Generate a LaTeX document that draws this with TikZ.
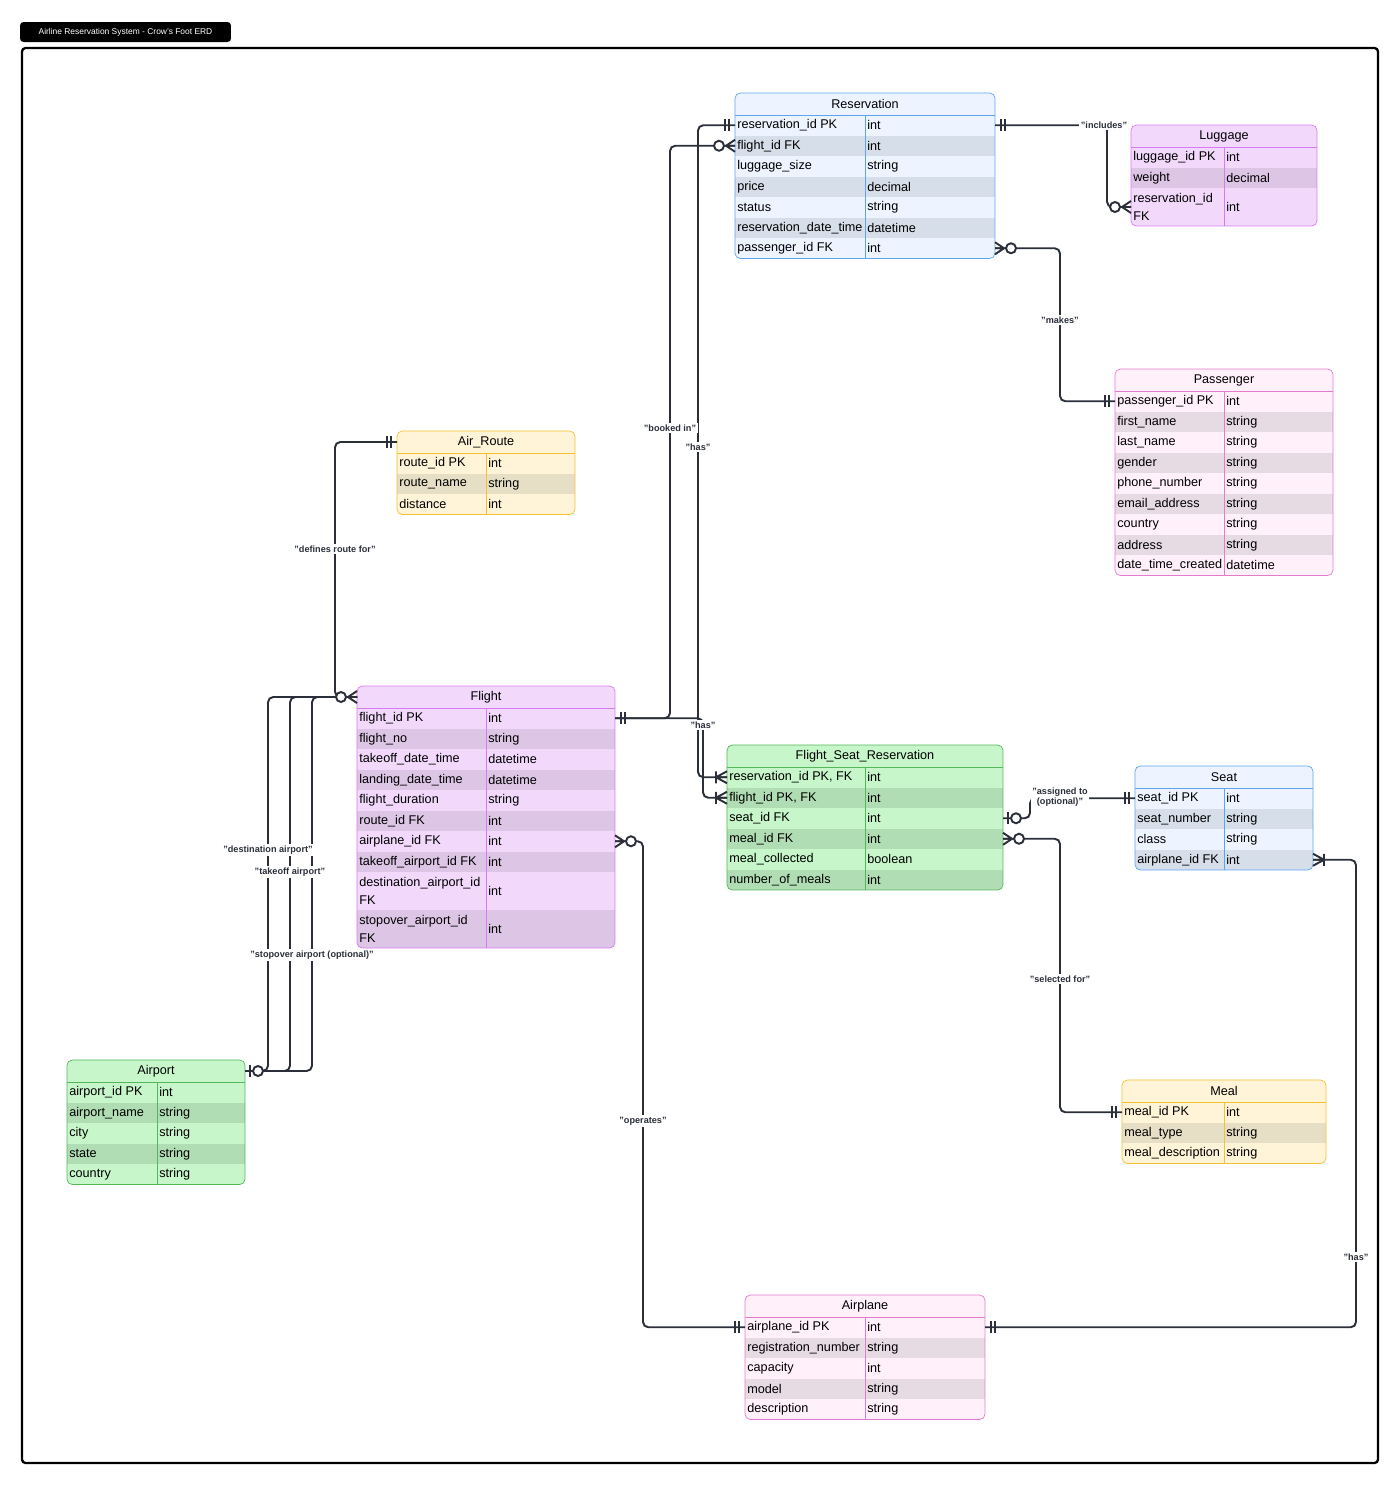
\documentclass[tikz,border=0pt]{standalone}
\usepackage{fontspec}
\setmainfont{Liberation Sans}
\usepackage{tikz}
\usetikzlibrary{calc,positioning}
\definecolor{ErdInk}{HTML}{2B2F3A}
\definecolor{bluefill}{HTML}{EDF4FF}\definecolor{bluealt}{HTML}{D6DEE9}\definecolor{blueline}{HTML}{5AA5F5}
\definecolor{purplefill}{HTML}{F2D9FC}\definecolor{purplealt}{HTML}{DDC5E5}\definecolor{purpleline}{HTML}{D77BF0}
\definecolor{pinkfill}{HTML}{FFF0FA}\definecolor{pinkalt}{HTML}{E6DAE3}\definecolor{pinkline}{HTML}{E57ACF}
\definecolor{yellowfill}{HTML}{FFF3D8}\definecolor{yellowalt}{HTML}{E6DFC6}\definecolor{yellowline}{HTML}{F2C230}
\definecolor{greenfill}{HTML}{C6F6C9}\definecolor{greenalt}{HTML}{B0DDB3}\definecolor{greenline}{HTML}{52B85A}
\newcommand{\erdfont}{\fontsize{7.2}{10}\selectfont}
\tikzset{
  erdrel/.style={draw=ErdInk, line width=1.1pt, rounded corners=3pt},
  erdlabel/.style={fill=white, inner sep=1pt, font=\fontsize{5.2}{6}\selectfont\bfseries, text=ErdInk, align=center},
  erdone/.pic={\draw[ErdInk, line width=1.1pt] (6,-6) -- (6,6) (10,-6) -- (10,6);},
  erdzmany/.pic={\draw[ErdInk, line width=1.1pt] (0,-6) -- (9,0) -- (0,6) (0,0) -- (9,0);
    \draw[ErdInk, line width=1.1pt, fill=white] (16,0) circle (5);},
  erdomany/.pic={\draw[ErdInk, line width=1.1pt] (0,-6) -- (11,0) -- (0,6) (0,0) -- (11,0) (11,-6) -- (11,6);},
  erdzone/.pic={\draw[ErdInk, line width=1.1pt] (5,-6) -- (5,6);
    \draw[ErdInk, line width=1.1pt, fill=white] (13,0) circle (5);}
}
% #1 name, #2 left, #3 column, #4 right, #5 top, #6 palette, #7 rows, #8 title
\newcommand{\erdtable}[8]{%
  \foreach \f/\t/\h [remember=\yb as \ya (initially #5+22)] in {#7} {\pgfmathsetmacro\yb{\ya+\h}\xdef\erdbot{\yb}}
  \begin{scope}
    \clip[rounded corners=3pt] (#2,#5) rectangle (#4,\erdbot);
    \fill[#6fill] (#2,#5) rectangle (#4,\erdbot);
    \foreach \f/\t/\h [count=\i, remember=\yb as \ya (initially #5+22)] in {#7} {
      \pgfmathsetmacro\yb{\ya+\h}
      \ifodd\i\else\fill[#6alt] (#2,\ya) rectangle (#4,\yb);\fi
      \node[anchor=west, align=left, font=\erdfont, inner sep=0pt] at ({#2+2},{(\ya+\yb)/2}) {\f};
      \node[anchor=west, align=left, font=\erdfont, inner sep=0pt] at ({#3+2},{(\ya+\yb)/2}) {\t};
      \coordinate (#1-\i-w) at (#2,{(\ya+\yb)/2});
      \coordinate (#1-\i-e) at (#4,{(\ya+\yb)/2});
    }
  \end{scope}
  \draw[#6line] (#2,#5+22) -- (#4,#5+22) (#3,#5+22) -- (#3,\erdbot);
  \draw[#6line, rounded corners=3pt] (#2,#5) rectangle (#4,\erdbot);
  \node[font=\erdfont] at ({(#2+#4)/2},{#5+11}) {#8};
  \coordinate (#1-0-w) at (#2,{#5+11});
  \coordinate (#1-0-e) at (#4,{#5+11});
}
\begin{document}
\catcode`\_=12
\begin{tikzpicture}[x=0.02cm, y=-0.02cm]
  \useasboundingbox (0,0) rectangle (1400,1485);
  \node[fill=black, rounded corners=2pt, text=white, font=\fontsize{4.8}{6}\selectfont,
    minimum width=4.22cm, minimum height=0.4cm, inner sep=0pt] (title) at (125.5,32) {Airline Reservation System - Crow's Foot ERD};
  \draw[line width=1.3pt, rounded corners=2pt] (22,48) rectangle (1378,1463);

  % tables
  \erdtable{Reservation}{735}{865}{995}{93}{blue}{reservation_id PK/int/20.5, flight_id FK/int/20.5, luggage_size/string/20.5, price/decimal/20.5, status/string/20.5, reservation_date_time/datetime/20.5, passenger_id FK/int/20.5}{Reservation}
  \erdtable{Luggage}{1131}{1224}{1317}{125}{purple}{luggage_id PK/int/20.5, weight/decimal/20.5, reservation_id\\FK/int/38}{Luggage}
  \erdtable{Passenger}{1115}{1224}{1333}{369}{pink}{passenger_id PK/int/20.5, first_name/string/20.5, last_name/string/20.5, gender/string/20.5, phone_number/string/20.5, email_address/string/20.5, country/string/20.5, address/string/20.5, date_time_created/datetime/20.5}{Passenger}
  \erdtable{AirRoute}{397}{486}{575}{431}{yellow}{route_id PK/int/20.5, route_name/string/20.5, distance/int/20.5}{Air_Route}
  \erdtable{Flight}{357}{486}{615}{686}{purple}{flight_id PK/int/20.5, flight_no/string/20.5, takeoff_date_time/datetime/20.5, landing_date_time/datetime/20.5, flight_duration/string/20.5, route_id FK/int/20.5, airplane_id FK/int/20.5, takeoff_airport_id FK/int/20.5, destination_airport_id\\FK/int/38, stopover_airport_id\\FK/int/38}{Flight}
  \erdtable{FSR}{727}{865}{1003}{745}{green}{{reservation_id PK, FK}/int/20.5, {flight_id PK, FK}/int/20.5, seat_id FK/int/20.5, meal_id FK/int/20.5, meal_collected/boolean/20.5, number_of_meals/int/20.5}{Flight_Seat_Reservation}
  \erdtable{Seat}{1135}{1224}{1313}{766}{blue}{seat_id PK/int/20.5, seat_number/string/20.5, class/string/20.5, airplane_id FK/int/20.5}{Seat}
  \erdtable{Meal}{1122}{1224}{1326}{1080}{yellow}{meal_id PK/int/20.5, meal_type/string/20.5, meal_description/string/20.5}{Meal}
  \erdtable{Airport}{67}{157}{245}{1060}{green}{airport_id PK/int/20.5, airport_name/string/20.5, city/string/20.5, state/string/20.5, country/string/20.5}{Airport}
  \erdtable{Airplane}{745}{865}{985}{1295}{pink}{airplane_id PK/int/20.5, registration_number/string/20.5, capacity/int/20.5, model/string/20.5, description/string/20.5}{Airplane}

  % relationships
  \draw[erdrel] (Flight-1-e) -- ++(55,0) |- (Reservation-2-w);
  \draw[erdrel] (Reservation-1-w) -- ++(-37,0) |- (FSR-1-w);
  \draw[erdrel] (Flight-1-e) -- ++(88,0) |- (FSR-2-w);
  \draw[erdrel] (Reservation-7-e) -- ++(65,0) |- (Passenger-1-w);
  \draw[erdrel] (Reservation-1-e) -- ++(112,0) |- (Luggage-3-w);
  \draw[erdrel] (Flight-0-w) -- ++(-22,0) |- (AirRoute-0-w);
  \foreach \dx in {23,45,67}
    \draw[erdrel] (Airport-0-e) -- ++(\dx,0) |- (Flight-0-w);
  \draw[erdrel] (Flight-7-e) -- ++(28,0) |- (Airplane-1-w);
  \draw[erdrel] (Airplane-1-e) -- ++(371,0) |- (Seat-4-e);
  \draw[erdrel] (FSR-3-e) -- ++(27,0) |- (Seat-1-w);
  \draw[erdrel] (FSR-4-e) -- ++(57,0) |- (Meal-1-w);

  % ends
  \pic at (Flight-1-e) {erdone};
  \pic[rotate=180] at (Reservation-2-w) {erdzmany};
  \pic[rotate=180] at (Reservation-1-w) {erdone};
  \pic[rotate=180] at (FSR-1-w) {erdomany};
  \pic[rotate=180] at (FSR-2-w) {erdomany};
  \pic at (Reservation-7-e) {erdzmany};
  \pic[rotate=180] at (Passenger-1-w) {erdone};
  \pic at (Reservation-1-e) {erdone};
  \pic[rotate=180] at (Luggage-3-w) {erdzmany};
  \pic[rotate=180] at (Flight-0-w) {erdzmany};
  \pic[rotate=180] at (AirRoute-0-w) {erdone};
  \pic at (Airport-0-e) {erdzone};
  \pic at (Flight-7-e) {erdzmany};
  \pic[rotate=180] at (Airplane-1-w) {erdone};
  \pic at (Airplane-1-e) {erdone};
  \pic at (Seat-4-e) {erdomany};
  \pic at (FSR-3-e) {erdzone};
  \pic[rotate=180] at (Seat-1-w) {erdone};
  \pic at (FSR-4-e) {erdzmany};
  \pic[rotate=180] at (Meal-1-w) {erdone};

  % labels
  \node[erdlabel] (lbookedin) at (670,428) {"booked in"};
  \node[erdlabel] (lhasres) at (698,447) {"has"};
  \node[erdlabel] (lhasflight) at (703,725) {"has"};
  \node[erdlabel] (lmakes) at (1060,320) {"makes"};
  \node[erdlabel] (lincludes) at (1104,125) {"includes"};
  \node[erdlabel] (ldefines) at (335,549) {"defines route for"};
  \node[erdlabel] (ldest) at (268,850) {"destination airport"};
  \node[erdlabel] (ltakeoff) at (290,872) {"takeoff airport"};
  \node[erdlabel] (lstopover) at (312,955) {"stopover airport (optional)"};
  \node[erdlabel] (loperates) at (643,1121) {"operates"};
  \node[erdlabel] (lhasplane) at (1356,1257) {"has"};
  \node[erdlabel] (lassigned) at (1060,797) {"assigned to\\(optional)"};
  \node[erdlabel] (lselected) at (1060,979) {"selected for"};
\end{tikzpicture}
\end{document}
